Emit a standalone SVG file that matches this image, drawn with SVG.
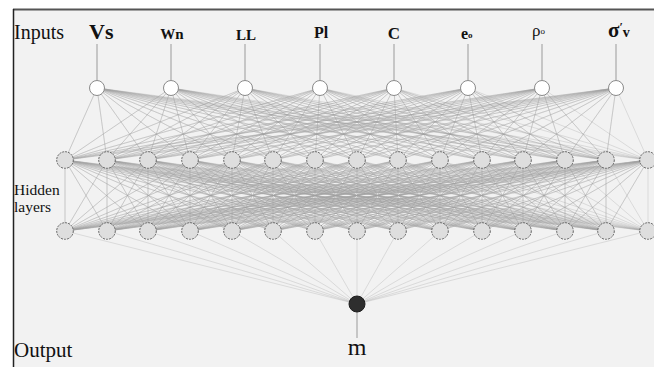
<svg xmlns="http://www.w3.org/2000/svg" width="654" height="367" viewBox="0 0 654 367">
<style>
.lbl{font-family:"Liberation Serif","Times New Roman",serif;fill:#111}
.b{font-weight:bold}
.fan{fill:none;stroke:#a2a2a2;stroke-width:0.6;stroke-opacity:0.5;stroke-linejoin:round}
.stem{stroke:#9a9a9a;stroke-width:1}
.in{fill:#fff;stroke:#8a8a8a;stroke-width:1}
.hid{fill:#dedede;stroke:#666;stroke-width:1;stroke-dasharray:2 1}
.out{fill:#2e2e2e;stroke:#1e1e1e;stroke-width:1}
</style>
<rect x="0" y="0" width="654" height="367" fill="#fff"/>
<rect x="13" y="9" width="641" height="358" fill="#f2f2f2"/>
<line x1="13" y1="9.5" x2="654" y2="9.5" stroke="#555" stroke-width="2"/>
<line x1="13.5" y1="9" x2="13.5" y2="367" stroke="#222" stroke-width="1.5"/>

<g id="connectors">
<path class="fan" d="M97 88L65 160L97 88L107 160L97 88L148 160L97 88L190 160L97 88L232 160L97 88L273 160L97 88L315 160L97 88L357 160L97 88L398 160L97 88L440 160L97 88L482 160L97 88L523 160L97 88L565 160L97 88L606 160L97 88L648 160"/>
<path class="fan" d="M171 88L65 160L171 88L107 160L171 88L148 160L171 88L190 160L171 88L232 160L171 88L273 160L171 88L315 160L171 88L357 160L171 88L398 160L171 88L440 160L171 88L482 160L171 88L523 160L171 88L565 160L171 88L606 160L171 88L648 160"/>
<path class="fan" d="M245 88L65 160L245 88L107 160L245 88L148 160L245 88L190 160L245 88L232 160L245 88L273 160L245 88L315 160L245 88L357 160L245 88L398 160L245 88L440 160L245 88L482 160L245 88L523 160L245 88L565 160L245 88L606 160L245 88L648 160"/>
<path class="fan" d="M320 88L65 160L320 88L107 160L320 88L148 160L320 88L190 160L320 88L232 160L320 88L273 160L320 88L315 160L320 88L357 160L320 88L398 160L320 88L440 160L320 88L482 160L320 88L523 160L320 88L565 160L320 88L606 160L320 88L648 160"/>
<path class="fan" d="M394 88L65 160L394 88L107 160L394 88L148 160L394 88L190 160L394 88L232 160L394 88L273 160L394 88L315 160L394 88L357 160L394 88L398 160L394 88L440 160L394 88L482 160L394 88L523 160L394 88L565 160L394 88L606 160L394 88L648 160"/>
<path class="fan" d="M468 88L65 160L468 88L107 160L468 88L148 160L468 88L190 160L468 88L232 160L468 88L273 160L468 88L315 160L468 88L357 160L468 88L398 160L468 88L440 160L468 88L482 160L468 88L523 160L468 88L565 160L468 88L606 160L468 88L648 160"/>
<path class="fan" d="M542 88L65 160L542 88L107 160L542 88L148 160L542 88L190 160L542 88L232 160L542 88L273 160L542 88L315 160L542 88L357 160L542 88L398 160L542 88L440 160L542 88L482 160L542 88L523 160L542 88L565 160L542 88L606 160L542 88L648 160"/>
<path class="fan" d="M616 88L65 160L616 88L107 160L616 88L148 160L616 88L190 160L616 88L232 160L616 88L273 160L616 88L315 160L616 88L357 160L616 88L398 160L616 88L440 160L616 88L482 160L616 88L523 160L616 88L565 160L616 88L606 160L616 88L648 160"/>

<path class="fan" d="M65 160L65 231L65 160L107 231L65 160L148 231L65 160L190 231L65 160L232 231L65 160L273 231L65 160L315 231L65 160L357 231L65 160L398 231L65 160L440 231L65 160L482 231L65 160L523 231L65 160L565 231L65 160L606 231L65 160L648 231"/>
<path class="fan" d="M107 160L65 231L107 160L107 231L107 160L148 231L107 160L190 231L107 160L232 231L107 160L273 231L107 160L315 231L107 160L357 231L107 160L398 231L107 160L440 231L107 160L482 231L107 160L523 231L107 160L565 231L107 160L606 231L107 160L648 231"/>
<path class="fan" d="M148 160L65 231L148 160L107 231L148 160L148 231L148 160L190 231L148 160L232 231L148 160L273 231L148 160L315 231L148 160L357 231L148 160L398 231L148 160L440 231L148 160L482 231L148 160L523 231L148 160L565 231L148 160L606 231L148 160L648 231"/>
<path class="fan" d="M190 160L65 231L190 160L107 231L190 160L148 231L190 160L190 231L190 160L232 231L190 160L273 231L190 160L315 231L190 160L357 231L190 160L398 231L190 160L440 231L190 160L482 231L190 160L523 231L190 160L565 231L190 160L606 231L190 160L648 231"/>
<path class="fan" d="M232 160L65 231L232 160L107 231L232 160L148 231L232 160L190 231L232 160L232 231L232 160L273 231L232 160L315 231L232 160L357 231L232 160L398 231L232 160L440 231L232 160L482 231L232 160L523 231L232 160L565 231L232 160L606 231L232 160L648 231"/>
<path class="fan" d="M273 160L65 231L273 160L107 231L273 160L148 231L273 160L190 231L273 160L232 231L273 160L273 231L273 160L315 231L273 160L357 231L273 160L398 231L273 160L440 231L273 160L482 231L273 160L523 231L273 160L565 231L273 160L606 231L273 160L648 231"/>
<path class="fan" d="M315 160L65 231L315 160L107 231L315 160L148 231L315 160L190 231L315 160L232 231L315 160L273 231L315 160L315 231L315 160L357 231L315 160L398 231L315 160L440 231L315 160L482 231L315 160L523 231L315 160L565 231L315 160L606 231L315 160L648 231"/>
<path class="fan" d="M357 160L65 231L357 160L107 231L357 160L148 231L357 160L190 231L357 160L232 231L357 160L273 231L357 160L315 231L357 160L357 231L357 160L398 231L357 160L440 231L357 160L482 231L357 160L523 231L357 160L565 231L357 160L606 231L357 160L648 231"/>
<path class="fan" d="M398 160L65 231L398 160L107 231L398 160L148 231L398 160L190 231L398 160L232 231L398 160L273 231L398 160L315 231L398 160L357 231L398 160L398 231L398 160L440 231L398 160L482 231L398 160L523 231L398 160L565 231L398 160L606 231L398 160L648 231"/>
<path class="fan" d="M440 160L65 231L440 160L107 231L440 160L148 231L440 160L190 231L440 160L232 231L440 160L273 231L440 160L315 231L440 160L357 231L440 160L398 231L440 160L440 231L440 160L482 231L440 160L523 231L440 160L565 231L440 160L606 231L440 160L648 231"/>
<path class="fan" d="M482 160L65 231L482 160L107 231L482 160L148 231L482 160L190 231L482 160L232 231L482 160L273 231L482 160L315 231L482 160L357 231L482 160L398 231L482 160L440 231L482 160L482 231L482 160L523 231L482 160L565 231L482 160L606 231L482 160L648 231"/>
<path class="fan" d="M523 160L65 231L523 160L107 231L523 160L148 231L523 160L190 231L523 160L232 231L523 160L273 231L523 160L315 231L523 160L357 231L523 160L398 231L523 160L440 231L523 160L482 231L523 160L523 231L523 160L565 231L523 160L606 231L523 160L648 231"/>
<path class="fan" d="M565 160L65 231L565 160L107 231L565 160L148 231L565 160L190 231L565 160L232 231L565 160L273 231L565 160L315 231L565 160L357 231L565 160L398 231L565 160L440 231L565 160L482 231L565 160L523 231L565 160L565 231L565 160L606 231L565 160L648 231"/>
<path class="fan" d="M606 160L65 231L606 160L107 231L606 160L148 231L606 160L190 231L606 160L232 231L606 160L273 231L606 160L315 231L606 160L357 231L606 160L398 231L606 160L440 231L606 160L482 231L606 160L523 231L606 160L565 231L606 160L606 231L606 160L648 231"/>
<path class="fan" d="M648 160L65 231L648 160L107 231L648 160L148 231L648 160L190 231L648 160L232 231L648 160L273 231L648 160L315 231L648 160L357 231L648 160L398 231L648 160L440 231L648 160L482 231L648 160L523 231L648 160L565 231L648 160L606 231L648 160L648 231"/>

<line class="fan" x1="357" y1="304" x2="65" y2="231"/>
<line class="fan" x1="357" y1="304" x2="107" y2="231"/>
<line class="fan" x1="357" y1="304" x2="148" y2="231"/>
<line class="fan" x1="357" y1="304" x2="190" y2="231"/>
<line class="fan" x1="357" y1="304" x2="232" y2="231"/>
<line class="fan" x1="357" y1="304" x2="273" y2="231"/>
<line class="fan" x1="357" y1="304" x2="315" y2="231"/>
<line class="fan" x1="357" y1="304" x2="357" y2="231"/>
<line class="fan" x1="357" y1="304" x2="398" y2="231"/>
<line class="fan" x1="357" y1="304" x2="440" y2="231"/>
<line class="fan" x1="357" y1="304" x2="482" y2="231"/>
<line class="fan" x1="357" y1="304" x2="523" y2="231"/>
<line class="fan" x1="357" y1="304" x2="565" y2="231"/>
<line class="fan" x1="357" y1="304" x2="606" y2="231"/>
<line class="fan" x1="357" y1="304" x2="648" y2="231"/>

<line class="stem" x1="97" y1="44" x2="97" y2="80"/>
<line class="stem" x1="171" y1="44" x2="171" y2="80"/>
<line class="stem" x1="245" y1="44" x2="245" y2="80"/>
<line class="stem" x1="320" y1="44" x2="320" y2="80"/>
<line class="stem" x1="394" y1="44" x2="394" y2="80"/>
<line class="stem" x1="468" y1="44" x2="468" y2="80"/>
<line class="stem" x1="542" y1="44" x2="542" y2="80"/>
<line class="stem" x1="616" y1="44" x2="616" y2="80"/>
<line class="stem" x1="357" y1="304" x2="357" y2="338"/>
</g>

<g id="input-nodes">
<circle id="in-vs" class="in" cx="97" cy="88" r="7.5"/>
<circle id="in-wn" class="in" cx="171" cy="88" r="7.5"/>
<circle id="in-ll" class="in" cx="245" cy="88" r="7.5"/>
<circle id="in-pi" class="in" cx="320" cy="88" r="7.5"/>
<circle id="in-c" class="in" cx="394" cy="88" r="7.5"/>
<circle id="in-e0" class="in" cx="468" cy="88" r="7.5"/>
<circle id="in-rho" class="in" cx="542" cy="88" r="7.5"/>
<circle id="in-sigma" class="in" cx="616" cy="88" r="7.5"/>
</g>

<g id="hidden-layer-1">
<circle class="hid" cx="65" cy="160" r="8.3"/>
<circle class="hid" cx="107" cy="160" r="8.3"/>
<circle class="hid" cx="148" cy="160" r="8.3"/>
<circle class="hid" cx="190" cy="160" r="8.3"/>
<circle class="hid" cx="232" cy="160" r="8.3"/>
<circle class="hid" cx="273" cy="160" r="8.3"/>
<circle class="hid" cx="315" cy="160" r="8.3"/>
<circle class="hid" cx="357" cy="160" r="8.3"/>
<circle class="hid" cx="398" cy="160" r="8.3"/>
<circle class="hid" cx="440" cy="160" r="8.3"/>
<circle class="hid" cx="482" cy="160" r="8.3"/>
<circle class="hid" cx="523" cy="160" r="8.3"/>
<circle class="hid" cx="565" cy="160" r="8.3"/>
<circle class="hid" cx="606" cy="160" r="8.3"/>
<circle class="hid" cx="648" cy="160" r="8.3"/>
</g>

<g id="hidden-layer-2">
<circle class="hid" cx="65" cy="231" r="8.3"/>
<circle class="hid" cx="107" cy="231" r="8.3"/>
<circle class="hid" cx="148" cy="231" r="8.3"/>
<circle class="hid" cx="190" cy="231" r="8.3"/>
<circle class="hid" cx="232" cy="231" r="8.3"/>
<circle class="hid" cx="273" cy="231" r="8.3"/>
<circle class="hid" cx="315" cy="231" r="8.3"/>
<circle class="hid" cx="357" cy="231" r="8.3"/>
<circle class="hid" cx="398" cy="231" r="8.3"/>
<circle class="hid" cx="440" cy="231" r="8.3"/>
<circle class="hid" cx="482" cy="231" r="8.3"/>
<circle class="hid" cx="523" cy="231" r="8.3"/>
<circle class="hid" cx="565" cy="231" r="8.3"/>
<circle class="hid" cx="606" cy="231" r="8.3"/>
<circle class="hid" cx="648" cy="231" r="8.3"/>
</g>

<g id="output-node">
<circle class="out" cx="357" cy="304" r="8"/>
</g>

<g id="labels">
<text class="lbl" x="14" y="39" font-size="20">Inputs</text>
<text class="lbl b" x="89" y="39" font-size="22">Vs</text>
<text class="lbl b" x="172" y="39" font-size="15" text-anchor="middle">Wn</text>
<text class="lbl b" x="246" y="40" font-size="15" text-anchor="middle">LL</text>
<text class="lbl b" x="321" y="38" font-size="16" text-anchor="middle">Pl</text>
<text class="lbl b" x="394" y="39" font-size="17" text-anchor="middle">C</text>
<text class="lbl b" x="461" y="39" font-size="16">e<tspan font-size="9" dy="-1">o</tspan></text>
<text class="lbl" x="532" y="36" font-size="17">ρ<tspan font-size="9" dy="-2">o</tspan></text>
<text class="lbl b" x="608" y="37" font-size="21">σ<tspan font-size="12" dy="-6">′</tspan><tspan font-size="14" dy="6">v</tspan></text>
<text class="lbl" x="14" y="195" font-size="15.5">Hidden</text>
<text class="lbl" x="14" y="212" font-size="15.5">layers</text>
<text class="lbl" x="14" y="357" font-size="21">Output</text>
<text class="lbl" x="357" y="355" font-size="24" text-anchor="middle">m</text>
</g>
</svg>
